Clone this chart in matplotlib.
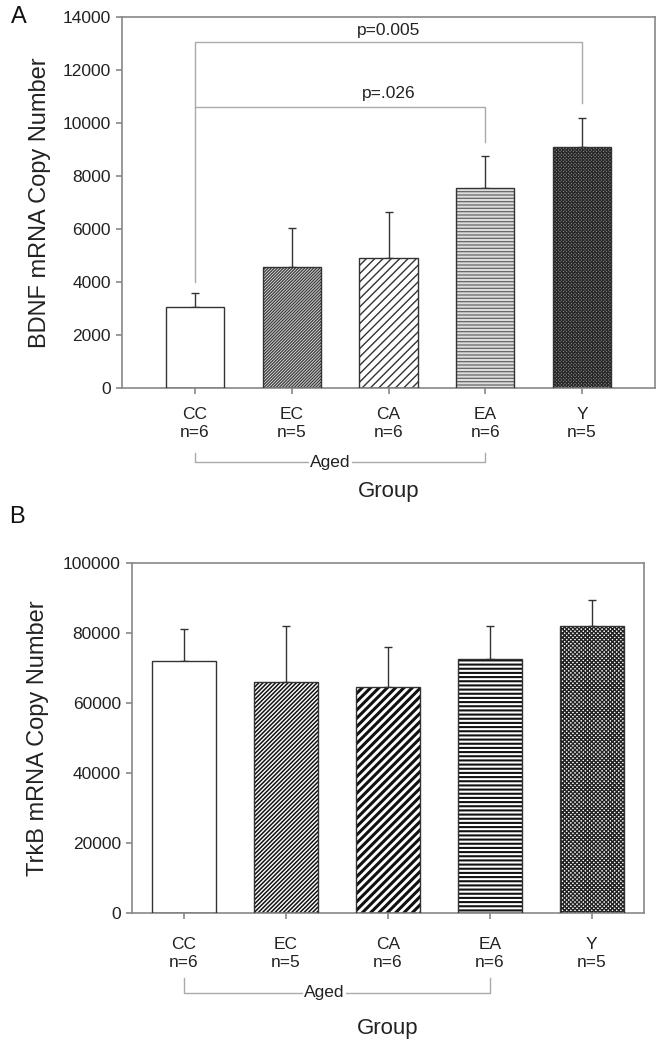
import matplotlib.pyplot as plt
from matplotlib import transforms
import numpy as np

plt.rcParams['font.family'] = ['Liberation Sans', 'DejaVu Sans']

# datos
grupos = ['CC', 'EC', 'CA', 'EA', 'Y']
n_grupo = [6, 5, 6, 6, 5]
bdnf_media = [3050, 4570, 4910, 7550, 9100]
bdnf_sem = [540, 1470, 1730, 1200, 1090]
trkb_media = [72000, 66000, 64600, 72600, 82000]
trkb_sem = [9200, 16000, 11400, 9500, 7500]

etiquetas = [f'{g}\nn={n}' for g, n in zip(grupos, n_grupo)]
x = np.arange(len(grupos))

# (hatch, color del hatch, grosor de linea, relleno)
estilos_A = [(None, 'white', 1, 'white'),
             ('/' * 11, '#3a3a3a', 0.9, '#dddddd'),
             ('////', '#333333', 1.0, 'white'),
             ('-----', '#666666', 0.9, '#dddddd'),
             ('x' * 10, '#2a2a2a', 0.9, '#999999')]
estilos_B = [(None, 'white', 1, 'white'),
             ('/' * 8, '#111111', 1.1, 'white'),
             ('////', '#111111', 2.2, 'white'),
             ('----', '#111111', 1.5, 'white'),
             ('x' * 8, '#222222', 1.0, 'white')]

fig = plt.figure(figsize=(6.63, 10.5), dpi=100)
axA = fig.add_axes([0.184, 0.6305, 0.804, 0.3533])
axB = fig.add_axes([0.199, 0.1305, 0.772, 0.3333])


def dibujar_barras(ax, medias, sems, estilos, ancho):
    for xi, m, (h, c, lw, fc) in zip(x, medias, estilos):
        with plt.rc_context({'hatch.linewidth': lw}):
            b = ax.bar(xi, m, width=ancho, facecolor=fc, edgecolor=c,
                       hatch=h, linewidth=0, zorder=2)
        for p in b.patches:
            if hasattr(p, 'set_hatch_linewidth'):
                p.set_hatch_linewidth(lw)
        ax.bar(xi, m, width=ancho, fill=False, edgecolor='#333333',
               linewidth=1.0, zorder=3)
    ax.errorbar(x, medias, yerr=[np.zeros(len(medias)), sems], fmt='none',
                ecolor='#333333', elinewidth=1.0, capsize=3, capthick=1.0, zorder=1)


def estilo_ejes(ax, pad_x):
    for s in ax.spines.values():
        s.set_color('#888888')
        s.set_linewidth(1.2)
    ax.tick_params(axis='both', direction='out', length=4, color='#888888',
                   labelcolor='#222222', labelsize=12.5, width=1.2)
    ax.tick_params(axis='y', pad=4)
    ax.tick_params(axis='x', pad=pad_x)
    ax.set_xticks(x)
    ax.set_xticklabels(etiquetas, linespacing=1.25)


def corchete_aged(ax, y_arriba, y_abajo, x_texto):
    trans = transforms.blended_transform_factory(ax.transData, fig.transFigure)
    ax.plot([0, 0, 3, 3], [y_arriba, y_abajo, y_abajo, y_arriba], transform=trans,
            clip_on=False, color='#aaaaaa', linewidth=1.0)
    ax.text(x_texto, y_abajo, 'Aged', transform=trans, ha='center', va='center',
            fontsize=12.5, color='#222222',
            bbox=dict(facecolor='white', edgecolor='none', pad=1))


# ---- Panel A ----
dibujar_barras(axA, bdnf_media, bdnf_sem, estilos_A, 0.6)
estilo_ejes(axA, 10)
axA.set_xlim(-0.755, 4.755)
axA.set_ylim(0, 14000)
axA.set_yticks(np.arange(0, 14001, 2000))
axA.set_ylabel('BDNF mRNA Copy Number', fontsize=17, color='#222222')
axA.yaxis.set_label_coords(-0.133, 0.5)
axA.set_xlabel('Group', fontsize=16, color='#222222')
axA.xaxis.set_label_coords(0.5, -0.25)

# corchetes de significancia
axA.plot([0, 0, 4, 4], [4000, 13050, 13050, 10750], color='#aaaaaa', linewidth=1.0, zorder=1)
axA.plot([0, 3, 3], [10600, 10600, 9280], color='#aaaaaa', linewidth=1.0, zorder=1)
axA.text(2, 13500, 'p=0.005', ha='center', va='center', fontsize=12.5, color='#222222')
axA.text(2, 11100, 'p=.026', ha='center', va='center', fontsize=12.5, color='#222222')
corchete_aged(axA, 1 - 453 / 1050, 1 - 462 / 1050, 1.4)

# ---- Panel B ----
dibujar_barras(axB, trkb_media, trkb_sem, estilos_B, 0.63)
estilo_ejes(axB, 13)
axB.set_xlim(-0.51, 4.51)
axB.set_ylim(0, 100000)
axB.set_yticks(np.arange(0, 100001, 20000))
axB.set_ylabel('TrkB mRNA Copy Number', fontsize=17, color='#222222')
axB.yaxis.set_label_coords(-0.162, 0.5)
axB.set_xlabel('Group', fontsize=16, color='#222222')
axB.xaxis.set_label_coords(0.5, -0.3)
corchete_aged(axB, 1 - 978 / 1050, 1 - 993 / 1050, 1.38)

fig.text(19 / 663, 1 - 17 / 1050, 'A', fontsize=17, ha='center', va='center', color='#111111')
fig.text(17 / 663, 1 - 517 / 1050, 'B', fontsize=17, ha='center', va='center', color='#111111')

fig.savefig('out.png', dpi=100)
